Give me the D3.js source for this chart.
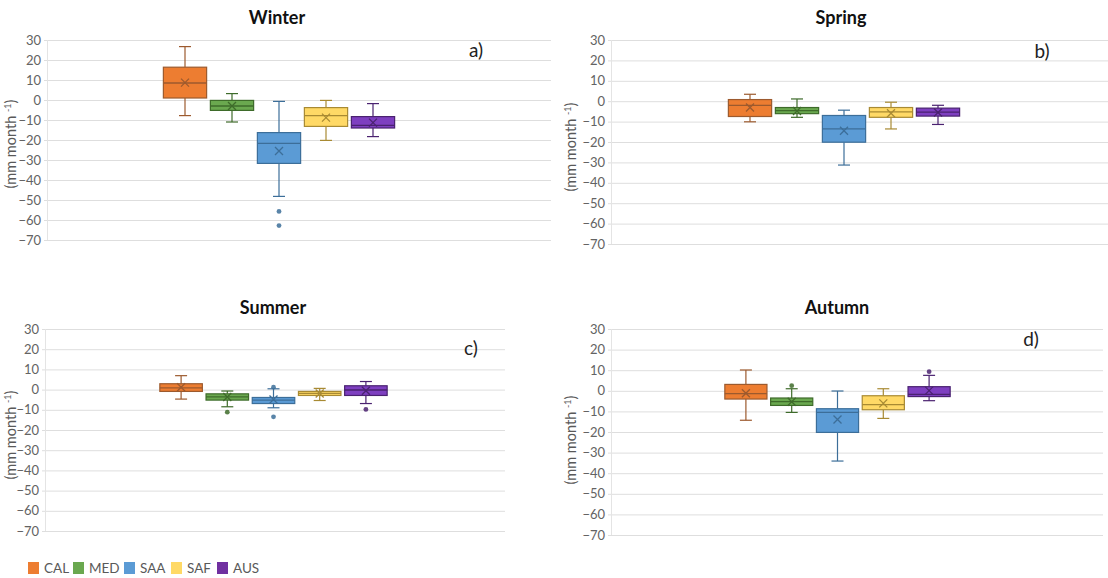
<!DOCTYPE html>
<html>
<head>
<meta charset="utf-8">
<script src="https://cdn.jsdelivr.net/npm/d3@7"></script>
<style>
  html, body { margin: 0; padding: 0; background: #fff; }
  svg { display: block; font-family: Lato, "Open Sans", sans-serif; }
</style>
</head>
<body>
<svg id="chart" width="1108" height="578"></svg>
<script>
// Regions (series) and seasons (panels)
const regions = ["CAL", "MED", "SAA", "SAF", "AUS"];
const seasons = ["Winter", "Spring", "Summer", "Autumn"];
const panelTags = ["a)", "b)", "c)", "d)"];
const yTicks = [30, 20, 10, 0, -10, -20, -30, -40, -50, -60, -70];
const regionColors = ["#ED7D31", "#6AA84F", "#5B9BD5", "#FFD966", "#7E3FC0"];
const regionStrokes = ["#9C5A2E", "#3E6B2A", "#3C6E99", "#A88A33", "#4A2270"];

// Each row: [lower whisker, Q1, median, Q3, upper whisker, mean] per region
const winterStats = [
  [-7.8, 1.0, 8.5, 16.4, 26.7, 8.7],
  [-11.0, -5.2, -3.0, -0.2, 3.2, -3.0],
  [-48.2, -31.7, -21.7, -16.3, -0.7, -25.5],
  [-20.2, -13.2, -7.8, -3.8, -0.2, -8.8],
  [-18.3, -14.0, -12.7, -8.3, -1.8, -11.3]
];
const springStats = [
  [-10.1, -7.5, -2.0, 0.8, 3.4, -3.1],
  [-7.9, -6.1, -4.6, -3.1, 1.1, -4.8],
  [-31.3, -20.1, -13.6, -7.0, -4.4, -14.5],
  [-13.6, -7.9, -5.2, -3.1, -0.5, -5.9],
  [-11.4, -7.3, -5.4, -3.4, -2.0, -5.5]
];
const summerStats = [
  [-4.7, -0.9, 0.9, 2.9, 6.9, 1.2],
  [-8.5, -5.2, -3.6, -2.1, -0.7, -3.7],
  [-9.0, -6.9, -5.2, -3.9, 0.4, -4.9],
  [-5.4, -2.9, -1.9, -0.9, 0.6, -1.9],
  [-6.9, -2.9, -0.2, 1.9, 4.0, -0.6]
];
const autumnStats = [
  [-14.3, -4.0, -1.4, 3.1, 10.1, -1.2],
  [-10.5, -7.1, -5.3, -3.5, 1.0, -5.3],
  [-34.1, -20.2, -10.5, -8.7, -0.1, -13.9],
  [-13.4, -9.2, -6.7, -2.4, 1.0, -6.1],
  [-4.8, -2.8, -1.7, 2.0, 7.5, 0.1]
];

// Outliers per region
const winterOutliers = [[], [], [-55.7, -62.8], [], []];
const springOutliers = [[], [], [], [], []];
const summerOutliers = [[], [-11.2], [1.2, -13.5], [], [-9.8]];
const autumnOutliers = [[], [2.5], [], [], [9.3]];

const seasonStats = [winterStats, springStats, summerStats, autumnStats];
const seasonOutliers = [winterOutliers, springOutliers, summerOutliers, autumnOutliers];

// Panel layout
const panels = [
  { x0: 47,  x1: 551,  y0: 40,  y1: 240, g0: 161.5, g1: 396.5, tx: 277, ty: 24,  kx: 476,  ky: 57,  lx: 16,  ly: 144 },
  { x0: 611, x1: 1110, y0: 40,  y1: 244, g0: 726.5, g1: 961.5, tx: 841, ty: 24,  kx: 1042, ky: 58,  lx: 576, ly: 147 },
  { x0: 45,  x1: 505,  y0: 329, y1: 531, g0: 158,   g1: 389,   tx: 273, ty: 314, kx: 471,  ky: 355, lx: 16,  ly: 435 },
  { x0: 611, x1: 1103, y0: 329, y1: 535, g0: 723,   g1: 952,   tx: 837, ty: 314, kx: 1031, ky: 346, lx: 576, ly: 440 }
];

const svg = d3.select("#chart");

seasons.forEach((season, i) => {
  const p = panels[i];
  const stats = seasonStats[i];
  const outs = seasonOutliers[i];
  const g = svg.append("g");

  const y = d3.scaleLinear().domain([-70, 30]).range([p.y1, p.y0]);
  const x = d3.scaleBand().domain(regions).range([p.g0, p.g1])
    .paddingInner(0.08).paddingOuter(0.04);

  // gridlines
  g.append("g").selectAll("line").data(yTicks).join("line")
    .attr("x1", p.x0 - 3).attr("x2", p.x1)
    .attr("y1", d => y(d) + 0.5).attr("y2", d => y(d) + 0.5)
    .attr("stroke", "#dedede").attr("stroke-width", 1);
  g.append("line")
    .attr("x1", p.x0 + 0.5).attr("x2", p.x0 + 0.5)
    .attr("y1", p.y0).attr("y2", p.y1)
    .attr("stroke", "#e4e4e4");

  // y axis labels
  const axis = d3.axisLeft(y).tickValues(yTicks).tickSize(0).tickPadding(0);
  const ax = g.append("g").attr("transform", `translate(${p.x0 - 6},0)`).call(axis);
  ax.select(".domain").remove();
  ax.selectAll("text")
    .attr("fill", "#636363")
    .style("font-size", "13px")
    .style("font-family", "Lato, 'Open Sans', sans-serif");

  // axis title
  const lt = g.append("text")
    .attr("transform", `translate(${p.lx},${p.ly}) rotate(-90)`)
    .attr("text-anchor", "middle")
    .attr("fill", "#595959")
    .style("font-size", "14.5px");
  lt.append("tspan").text("(mm month ");
  lt.append("tspan").attr("dy", -5).style("font-size", "9px").text("-1");
  lt.append("tspan").attr("dy", 5).text(")");

  // title and tag
  g.append("text").attr("x", p.tx).attr("y", p.ty)
    .attr("text-anchor", "middle").attr("fill", "#111")
    .style("font-size", "18px").style("font-weight", "bold").text(season);
  g.append("text").attr("x", p.kx).attr("y", p.ky)
    .attr("text-anchor", "middle").attr("fill", "#222")
    .style("font-size", "19px").text(panelTags[i]);

  // boxes
  const rows = regions.map((r, j) => ({ r, j, s: stats[j], o: outs[j] }));
  const bw = x.bandwidth();
  const box = g.append("g").selectAll("g").data(rows).join("g");

  // whiskers
  box.append("line")
    .attr("x1", d => x(d.r) + bw / 2).attr("x2", d => x(d.r) + bw / 2)
    .attr("y1", d => y(d.s[4])).attr("y2", d => y(d.s[3]))
    .attr("stroke", d => regionStrokes[d.j]).attr("stroke-width", 1.2);
  box.append("line")
    .attr("x1", d => x(d.r) + bw / 2).attr("x2", d => x(d.r) + bw / 2)
    .attr("y1", d => y(d.s[1])).attr("y2", d => y(d.s[0]))
    .attr("stroke", d => regionStrokes[d.j]).attr("stroke-width", 1.2);
  [0, 4].forEach(k => {
    box.append("line")
      .attr("x1", d => x(d.r) + bw / 2 - 6).attr("x2", d => x(d.r) + bw / 2 + 6)
      .attr("y1", d => y(d.s[k])).attr("y2", d => y(d.s[k]))
      .attr("stroke", d => regionStrokes[d.j]).attr("stroke-width", 1.2);
  });

  // IQR box
  box.append("rect")
    .attr("x", d => x(d.r)).attr("width", bw)
    .attr("y", d => y(d.s[3])).attr("height", d => y(d.s[1]) - y(d.s[3]))
    .attr("fill", d => regionColors[d.j])
    .attr("stroke", d => regionStrokes[d.j]).attr("stroke-width", 1.2);

  // median
  box.append("line")
    .attr("x1", d => x(d.r)).attr("x2", d => x(d.r) + bw)
    .attr("y1", d => y(d.s[2])).attr("y2", d => y(d.s[2]))
    .attr("stroke", d => regionStrokes[d.j]).attr("stroke-width", 1.3);

  // mean marker (x)
  box.append("path")
    .attr("transform", d => `translate(${x(d.r) + bw / 2},${y(d.s[5])})`)
    .attr("d", "M-4,-4L4,4M-4,4L4,-4")
    .attr("stroke", d => regionStrokes[d.j]).attr("stroke-width", 1.3)
    .attr("fill", "none");

  // outliers
  box.selectAll("circle").data(d => d.o.map(v => ({ v, d }))).join("circle")
    .attr("cx", o => x(o.d.r) + bw / 2).attr("cy", o => y(o.v))
    .attr("r", 2.4)
    .attr("fill", o => regionStrokes[o.d.j]).attr("opacity", 0.85);
});

// legend
const legendX = [28, 73, 124, 171, 217];
const leg = svg.append("g").selectAll("g").data(regions).join("g")
  .attr("transform", (d, j) => `translate(${legendX[j]},562)`);
leg.append("rect").attr("width", 11).attr("height", 12)
  .attr("fill", (d, j) => j === 4 ? "#7030A0" : regionColors[j]);
leg.append("text").attr("x", 16).attr("y", 11)
  .attr("fill", "#595959").style("font-size", "13.5px").text(d => d);
</script>
</body>
</html>
